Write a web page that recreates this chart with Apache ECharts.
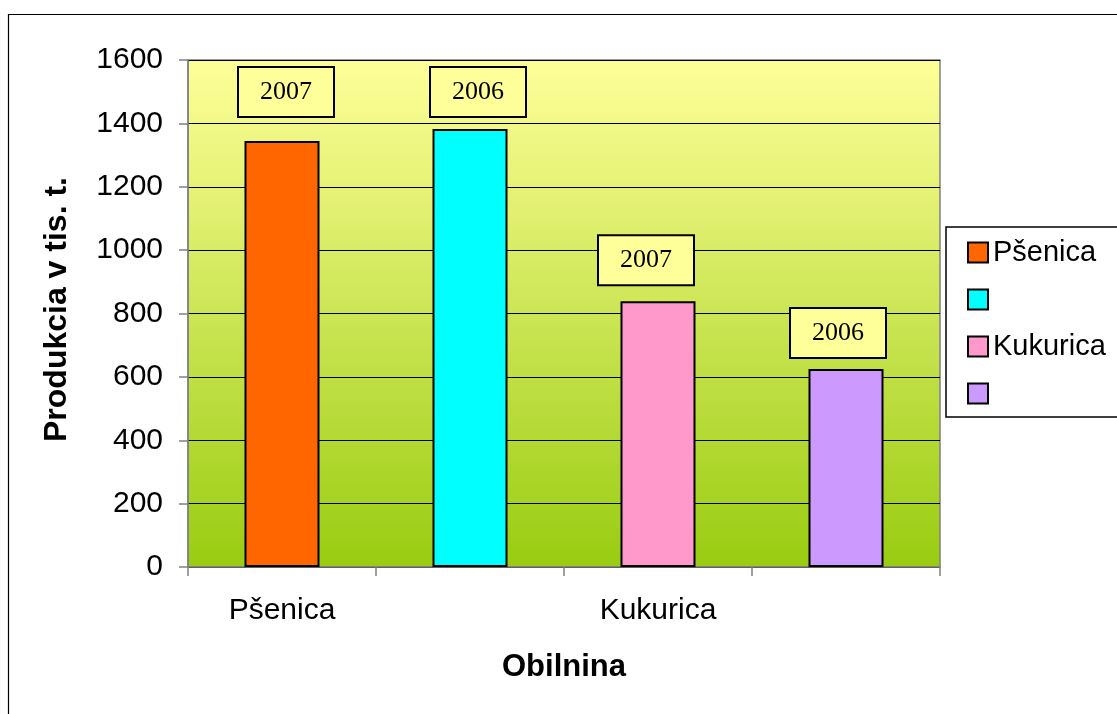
<!DOCTYPE html>
<html>
<head>
<meta charset="utf-8">
<style>
html,body{margin:0;padding:0;background:#fff;}
#chart{width:1117px;height:714px;}
</style>
<script src="https://cdn.jsdelivr.net/npm/echarts@6/dist/echarts.min.js"></script>
</head>
<body>
<div id="chart"></div>
<script>
const categories = ['Pšenica', '', 'Kukurica', ''];
const seriesNames = ['Pšenica', '\u00a0', 'Kukurica', '\u00a0\u00a0'];
const values = [1344, 1382, 839, 625];
const yearLabels = ['2007', '2006', '2007', '2006'];
const colors = ['#ff6600', '#00ffff', '#ff99cc', '#cc99ff'];
const yTicks = [0, 200, 400, 600, 800, 1000, 1200, 1400, 1600];

const labelDist = [25, 13, 17, 12];
const labelOffX = [4, 8, -12, -8];

const chart = echarts.init(document.getElementById('chart'));
const series = seriesNames.map((name, i) => ({
  name: name,
  type: 'bar',
  stack: 'all',
  barWidth: 75,
  data: categories.map((c, j) => j === i ? values[i] : '-'),
  itemStyle: { color: colors[i], borderColor: '#000', borderWidth: 2 },
  label: {
    show: true,
    position: 'top',
    distance: labelDist[i],
    offset: [labelOffX[i], 0],
    formatter: () => yearLabels[i],
    fontFamily: '"Liberation Serif", "Times New Roman", serif',
    fontSize: 26,
    color: '#000',
    backgroundColor: '#ffff99',
    borderColor: '#000',
    borderWidth: 2,
    padding: [11, 21, 11, 21],
    lineHeight: 26
  }
}));

chart.setOption({
  animation: false,
  backgroundColor: '#fff',
  textStyle: { fontFamily: '"Liberation Sans", Arial, sans-serif' },
  graphic: [{
    type: 'rect',
    shape: { x: 8.5, y: 14.5, width: 1300, height: 900 },
    style: { fill: 'none', stroke: '#000', lineWidth: 1.2 },
    silent: true
  }],
  grid: {
    left: 188, top: 60, right: 177, bottom: 147,
    show: true,
    borderColor: '#808080',
    borderWidth: 1.5,
    backgroundColor: new echarts.graphic.LinearGradient(0, 0, 0, 1, [
      { offset: 0, color: '#ffff99' },
      { offset: 1, color: '#99cc11' }
    ])
  },
  legend: {
    orient: 'vertical',
    left: 946, top: 227,
    padding: [11, 30, 9, 21],
    itemWidth: 20, itemHeight: 20,
    itemGap: 18,
    icon: 'rect',
    borderColor: '#000', borderWidth: 1.5,
    backgroundColor: '#fff',
    textStyle: { fontSize: 29, color: '#000', lineHeight: 20, fontFamily: '"Liberation Sans", Arial, sans-serif' },
    data: seriesNames
  },
  xAxis: {
    type: 'category',
    data: categories,
    name: 'Obilnina',
    nameLocation: 'middle',
    nameGap: 85,
    nameTextStyle: { fontSize: 31, fontWeight: 'bold', color: '#000' },
    axisLine: { lineStyle: { color: '#808080', width: 1.5 } },
    axisTick: { show: true, length: 9, lineStyle: { color: '#808080', width: 1.5 } },
    axisLabel: { fontSize: 30, color: '#000', margin: 29, interval: 0 }
  },
  yAxis: {
    type: 'value',
    min: yTicks[0], max: yTicks[yTicks.length - 1], interval: yTicks[1] - yTicks[0],
    name: 'Produkcia v tis. t.',
    nameLocation: 'middle',
    nameGap: 115,
    nameTextStyle: { fontSize: 32, fontWeight: 'bold', color: '#000', padding: [0, 0, 0, 8] },
    axisLine: { show: true, lineStyle: { color: '#808080', width: 1.5 } },
    axisTick: { show: true, length: 9, lineStyle: { color: '#808080', width: 1.5 } },
    axisLabel: { fontSize: 30, color: '#000', margin: 25, formatter: v => String(v) },
    splitLine: { show: true, lineStyle: { color: '#000', width: 1 } }
  },
  series: series
});
</script>
</body>
</html>
